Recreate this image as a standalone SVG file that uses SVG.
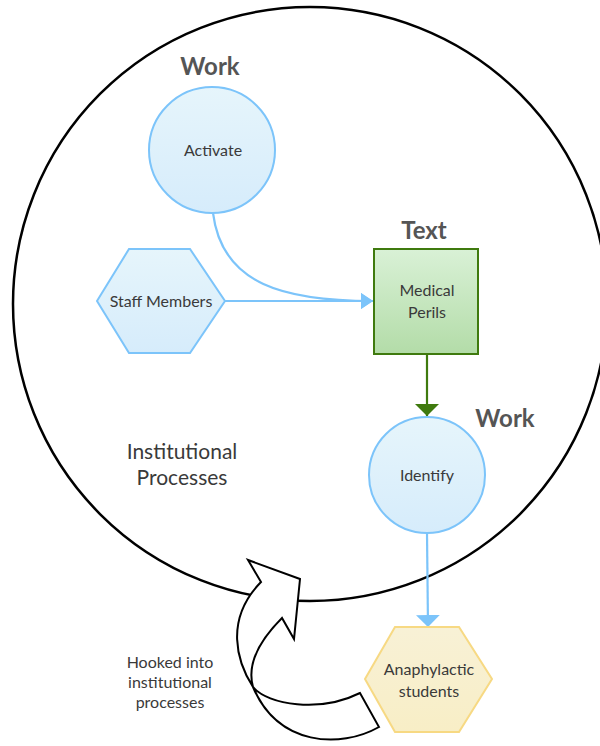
<svg xmlns="http://www.w3.org/2000/svg" width="600" height="746" viewBox="0 0 600 746">
  <defs>
    <linearGradient id="blueFill" x1="0" y1="0" x2="0" y2="1">
      <stop offset="0" stop-color="#e6f5fb"/>
      <stop offset="1" stop-color="#d6ecfb"/>
    </linearGradient>
    <linearGradient id="greenFill" x1="0" y1="0" x2="0" y2="1">
      <stop offset="0" stop-color="#d9f1d6"/>
      <stop offset="1" stop-color="#b3dca8"/>
    </linearGradient>
    <linearGradient id="yellowFill" x1="0" y1="0" x2="0" y2="1">
      <stop offset="0" stop-color="#f8f1d6"/>
      <stop offset="1" stop-color="#f8eec6"/>
    </linearGradient>
    <marker id="blueArrow" viewBox="0 0 12 16" refX="12" refY="8" markerWidth="12" markerHeight="16" markerUnits="userSpaceOnUse" orient="auto">
      <path d="M0,0 L12,8 L0,16 Z" fill="#7cc4fa"/>
    </marker>
    <marker id="blueArrowWide" viewBox="0 0 12 24" refX="12" refY="12" markerWidth="12" markerHeight="24" markerUnits="userSpaceOnUse" orient="auto">
      <path d="M0,0 L12,12 L0,24 Z" fill="#7cc4fa"/>
    </marker>
    <marker id="greenArrow" viewBox="0 0 12 24" refX="12" refY="12" markerWidth="12" markerHeight="24" markerUnits="userSpaceOnUse" orient="auto">
      <path d="M0,0 L12,12 L0,24 Z" fill="#3f7a0e"/>
    </marker>
    <style>
      .lbl { font-family: Lato, "Liberation Sans", sans-serif; fill: #3a3a3a; text-anchor: middle; }
      .node { font-size: 16px; }
      .head { font-family: Lato, "Liberation Sans", sans-serif; font-size: 24px; font-weight: bold; fill: #555555; text-anchor: middle; }
      .blue { fill: url(#blueFill); stroke: #7cc4fa; stroke-width: 2; }
      .conn { fill: none; stroke-width: 2.2; }
    </style>
  </defs>

  <rect width="600" height="746" fill="#ffffff"/>

  <!-- outer boundary of the institutional processes -->
  <g id="institution">
    <circle cx="310" cy="304" r="297" fill="none" stroke="#000000" stroke-width="2.5"/>
    <text class="lbl" x="182" y="459" font-size="21">Institutional</text>
    <text class="lbl" x="182" y="485" font-size="21">Processes</text>
  </g>

  <!-- connectors -->
  <g id="connectors">
    <path class="conn" stroke="#7cc4fa" d="M213,213 C222,285 285,301 373,301" marker-end="url(#blueArrow)"/>
    <path class="conn" stroke="#7cc4fa" d="M225,301 L373,301" marker-end="url(#blueArrow)"/>
    <path class="conn" stroke="#3f7a0e" d="M427,354 L427,416" marker-end="url(#greenArrow)"/>
    <path class="conn" stroke="#7cc4fa" d="M427,533 L428,627" marker-end="url(#blueArrowWide)"/>
  </g>

  <g id="activate">
    <text class="head" x="210" y="75">Work</text>
    <circle class="blue" cx="212" cy="150" r="63"/>
    <text class="lbl node" x="213" y="156">Activate</text>
  </g>

  <g id="staff-members">
    <polygon class="blue" points="97,301 129,249 190,249 225,301 190,353 129,353"/>
    <text class="lbl node" x="161" y="307">Staff Members</text>
  </g>

  <g id="medical-perils">
    <text class="head" x="424" y="239">Text</text>
    <rect x="374" y="249" width="104" height="105" fill="url(#greenFill)" stroke="#3f7a0e" stroke-width="2"/>
    <text class="lbl node" x="427" y="296">Medical</text>
    <text class="lbl node" x="427" y="318">Perils</text>
  </g>

  <g id="identify">
    <text class="head" x="505" y="427">Work</text>
    <circle class="blue" cx="427" cy="475" r="58"/>
    <text class="lbl node" x="427" y="481">Identify</text>
  </g>

  <g id="anaphylactic-students">
    <polygon points="365,679 395,627 459,627 492,679 459,732 395,732" fill="url(#yellowFill)" stroke="#f7d983" stroke-width="2"/>
    <text class="lbl node" x="429" y="675">Anaphylactic</text>
    <text class="lbl node" x="429" y="697">students</text>
  </g>

  <!-- curved hook arrow drawn over the boundary -->
  <g id="hook">
    <path d="M261,582 L248,560 L300,579 L294,639 L282,618 C262,638 246,662 253,687 C268,705 320,713 360,693 L379,727 C340,749 278,746 253,687 C237,662 224,620 261,582 Z" fill="#ffffff" stroke="#000000" stroke-width="2" stroke-linejoin="miter"/>
    <text class="lbl node" x="170" y="668" fill="#444444">Hooked into</text>
    <text class="lbl node" x="170" y="688" fill="#444444">institutional</text>
    <text class="lbl node" x="170" y="708" fill="#444444">processes</text>
  </g>
</svg>
